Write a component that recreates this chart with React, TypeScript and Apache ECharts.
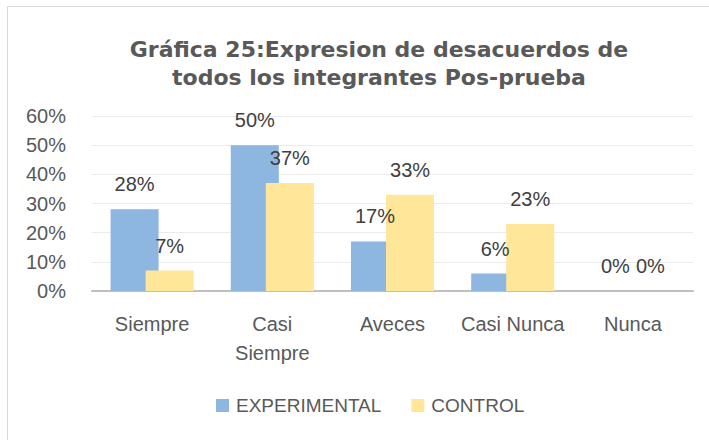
import React, { useEffect, useRef } from "react";
import * as echarts from "echarts";

const titleText = "Gráfica 25:Expresion de desacuerdos de\ntodos los integrantes Pos-prueba";
const categories = ["Siempre", "Casi\nSiempre", "Aveces", "Casi Nunca", "Nunca"];
const seriesNames = ["EXPERIMENTAL", "CONTROL"];
const experimental = [28, 50, 17, 6, 0];
const control = [7, 37, 33, 23, 0];
const yTicks = { min: 0, max: 60, interval: 10 };

const FONT = "'Liberation Sans', Arial, sans-serif";

export default function App() {
  const ref = useRef<HTMLDivElement>(null);
  useEffect(() => {
    if (!ref.current) return;
    const chart = echarts.init(ref.current, undefined, { renderer: "svg" });
    const labelCfg = {
      show: true,
      position: "top",
      distance: 15,
      formatter: (p: any) => `${p.value}%`,
      color: "#404040",
      fontSize: 20,
      fontFamily: FONT,
    };
    chart.setOption({
      animation: false,
      backgroundColor: "#ffffff",
      textStyle: { fontFamily: FONT },
      title: {
        text: titleText,
        left: 374,
        top: 30,
        textAlign: "center",
        textStyle: {
          fontSize: 22,
          fontWeight: "bold",
          color: "#595959",
          lineHeight: 28,
          fontFamily: "'DejaVu Sans', sans-serif",
        },
      },
      graphic: [
        { type: "line", shape: { x1: 7, y1: 6.5, x2: 709, y2: 6.5 }, style: { stroke: "#d9d9d9", lineWidth: 1 } },
        { type: "line", shape: { x1: 7.5, y1: 6, x2: 7.5, y2: 440 }, style: { stroke: "#d9d9d9", lineWidth: 1 } },
      ],
      legend: {
        data: seriesNames,
        left: 216,
        top: 396,
        padding: 0,
        icon: "rect",
        itemWidth: 13,
        itemHeight: 13,
        itemGap: 30,
        textStyle: { fontSize: 19, color: "#595959", fontFamily: FONT, padding: [0, 0, 0, 2] },
      },
      grid: { left: 92, right: 16, top: 116, bottom: 149, containLabel: false },
      xAxis: {
        type: "category",
        data: categories,
        axisLine: { lineStyle: { color: "#bfbfbf", width: 2 } },
        axisTick: { show: false },
        axisLabel: { color: "#595959", fontSize: 20, margin: 18, lineHeight: 29, fontFamily: FONT, interval: 0 },
      },
      yAxis: {
        type: "value",
        min: yTicks.min,
        max: yTicks.max,
        interval: yTicks.interval,
        axisLine: { show: false },
        axisTick: { show: false },
        splitLine: { lineStyle: { color: "#ebebeb", width: 1 } },
        axisLabel: { formatter: "{value}%", color: "#595959", fontSize: 20, margin: 26, fontFamily: FONT },
      },
      series: [
        {
          name: seriesNames[0],
          type: "bar",
          data: experimental,
          barWidth: 48,
          barGap: "-27%",
          itemStyle: { color: "#8DB6E1" },
          label: labelCfg,
        },
        {
          name: seriesNames[1],
          type: "bar",
          data: control,
          barWidth: 48,
          barGap: "-27%",
          itemStyle: { color: "#FFE699" },
          label: labelCfg,
        },
      ],
    });
    return () => chart.dispose();
  }, []);
  return (
    <div
      ref={ref}
      style={{ position: "absolute", left: 0, top: 0, width: 709, height: 440 }}
    />
  );
}
